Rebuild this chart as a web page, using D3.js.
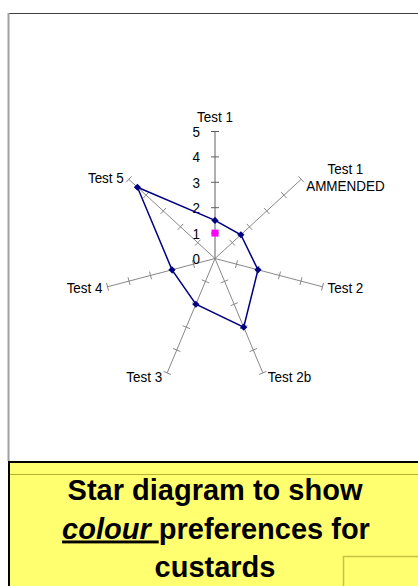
<!DOCTYPE html>
<html>
<head>
<meta charset="utf-8">
<script src="https://cdn.jsdelivr.net/npm/d3@7"></script>
<style>
  body { margin: 0; background: #fff; }
  svg { display: block; font-family: "Liberation Sans", Arial, sans-serif; }
</style>
</head>
<body>
<svg id="chart" width="418" height="586"></svg>
<script>
// data
const axes = ["Test 1", "Test 1\nAMMENDED", "Test 2", "Test 2b", "Test 3", "Test 4", "Test 5"];
const colourScores = [1.5, 1.5, 2, 3, 2, 2, 4.5];
const markerScores = [1, null, null, null, null, null, null];
const tickValues = [0, 1, 2, 3, 4, 5];
const titleLines = ["Star diagram to show", "colour", "preferences for", "custards"];

const width = 418, height = 586;
const cx = 215, cy = 258.5;
const squeeze = 0.868; // the picture is narrower than it is tall

let svg = d3.select("#chart");

// frame of the chart area
svg.append("line").attr("x1", 8).attr("x2", width).attr("y1", 13.5).attr("y2", 13.5)
    .attr("stroke", "#404040").attr("stroke-width", 1);
svg.append("line").attr("x1", 8.5).attr("x2", 8.5).attr("y1", 13).attr("y2", 461)
    .attr("stroke", "#a0a0a0").attr("stroke-width", 2);

// radial scales, x is narrower than y
let rX = d3.scaleLinear().domain([0, 5]).range([0, 127 * squeeze]);
let rY = d3.scaleLinear().domain([0, 5]).range([0, 127]);
let angle = d3.scaleLinear().domain([0, axes.length]).range([0, 2 * Math.PI]);

let px = (i, v) => cx + rX(v) * Math.sin(angle(i));
let py = (i, v) => cy - rY(v) * Math.cos(angle(i));

let g = svg.append("g");

// spokes with tick crosses
axes.forEach((name, i) => {
    let a = angle(i);
    g.append("line")
        .attr("x1", px(i, 0)).attr("y1", py(i, 0))
        .attr("x2", px(i, 5)).attr("y2", py(i, 5))
        .attr("stroke", i == 0 ? "#606060" : "#888")
        .attr("stroke-width", 1);
    // direction perpendicular to the spoke in screen space
    let dx = rX(1) * Math.sin(a), dy = -rY(1) * Math.cos(a);
    let len = Math.hypot(dx, dy);
    let nx = -dy / len, ny = dx / len;
    tickValues.filter(t => t > 0).forEach(t => {
        g.append("line")
            .attr("x1", px(i, t) - nx * 4).attr("y1", py(i, t) - ny * 4)
            .attr("x2", px(i, t) + nx * 4).attr("y2", py(i, t) + ny * 4)
            .attr("stroke", i == 0 ? "#606060" : "#888")
            .attr("stroke-width", 1);
    });
});

// value labels on the first spoke
g.selectAll(".tick-label")
    .data(tickValues)
    .enter()
    .append("text")
    .attr("class", "tick-label")
    .attr("transform", d => `translate(${cx - 15}, ${py(0, d) + 5.5}) scale(${squeeze},1)`)
    .attr("text-anchor", "end")
    .attr("font-size", 15.5)
    .attr("fill", "#000")
    .text(d => d);

// spoke labels
axes.forEach((name, i) => {
    let a = angle(i);
    let s = Math.sin(a), c = Math.cos(a);
    let tx = px(i, 5), ty = py(i, 5);
    let lines = name.split("\n");
    let label = g.append("text").attr("font-size", 15.5).attr("fill", "#000");
    let tspans = lines.map((l, k) => label.append("tspan").attr("x", 0).attr("y", k * 17.3).text(l));
    let widths = tspans.map(t => t.node().getComputedTextLength());
    let blockW = d3.max(widths);
    tspans.forEach((t, k) => t.attr("x", (blockW - widths[k]) / 2));
    let blockH = (lines.length - 1) * 17.3;
    let ox, oy;
    if (Math.abs(s) < 0.3) {
        ox = tx - blockW * squeeze / 2;
        oy = ty - 9.5 - blockH;
    } else {
        ox = s > 0 ? tx + 5 : tx - 5 - blockW * squeeze;
        oy = ty - 3.5 * c + 5.5 - blockH / 2;
    }
    label.attr("transform", `translate(${ox}, ${oy}) scale(${squeeze},1)`);
});

// the series polygon
let line = d3.line()
    .x((d, i) => px(i, d))
    .y((d, i) => py(i, d))
    .curve(d3.curveLinearClosed);

g.append("path")
    .datum(colourScores)
    .attr("d", line)
    .attr("fill", "none")
    .attr("stroke", "#000080")
    .attr("stroke-width", 1.5);

g.selectAll(".diamond")
    .data(colourScores)
    .enter()
    .append("path")
    .attr("class", "diamond")
    .attr("d", d3.symbol(d3.symbolSquare, 26))
    .attr("transform", (d, i) => `translate(${px(i, d)}, ${py(i, d)}) rotate(45)`)
    .attr("fill", "#000080");

// second series: just a marker
g.selectAll(".square")
    .data(markerScores.map((v, i) => ({ v, i })).filter(d => d.v != null))
    .enter()
    .append("rect")
    .attr("class", "square")
    .attr("x", d => px(d.i, d.v) - 3.5)
    .attr("y", d => py(d.i, d.v) - 3.5)
    .attr("width", 7)
    .attr("height", 7)
    .attr("fill", "#ff00ff");

// yellow title box
let box = svg.append("g");
box.append("rect").attr("x", 9).attr("y", 461).attr("width", width).attr("height", 140)
    .attr("fill", "#ffff70");
box.append("line").attr("x1", 8).attr("x2", width).attr("y1", 462).attr("y2", 462)
    .attr("stroke", "#000").attr("stroke-width", 2);
box.append("line").attr("x1", 9).attr("x2", 9).attr("y1", 461).attr("y2", height)
    .attr("stroke", "#000").attr("stroke-width", 2);
box.append("line").attr("x1", 10).attr("x2", width).attr("y1", 474.5).attr("y2", 474.5)
    .attr("stroke", "#b8b030").attr("stroke-width", 1);
box.append("rect").attr("x", 343.5).attr("y", 556.5).attr("width", 100).attr("height", 60)
    .attr("fill", "none").attr("stroke", "#c8c040").attr("stroke-width", 1.5);

let title = box.append("text")
    .attr("font-size", 29)
    .attr("font-weight", "bold")
    .attr("text-anchor", "middle")
    .attr("fill", "#000");
title.append("tspan").attr("x", 215).attr("y", 500).text(titleLines[0]);
let l2 = title.append("tspan").attr("x", 216).attr("y", 538.5);
l2.append("tspan").attr("font-style", "italic").attr("text-decoration", "underline").text(titleLines[1] + "\u00a0");
l2.append("tspan").text(titleLines[2]);
title.append("tspan").attr("x", 215).attr("y", 577).text(titleLines[3]);
</script>
</body>
</html>
